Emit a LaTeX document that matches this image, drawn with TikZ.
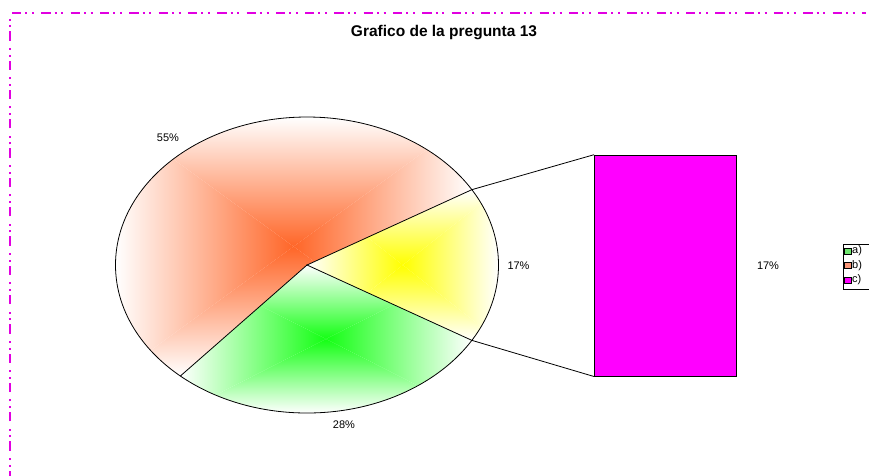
\documentclass[tikz,border=0pt]{standalone}
\usepackage{fontspec}
\setmainfont{Liberation Sans}
\usetikzlibrary{calc}
\definecolor{redc}{RGB}{255,102,40}
\definecolor{yelc}{RGB}{255,255,0}
\definecolor{grnc}{RGB}{20,255,20}
\definecolor{barc}{RGB}{255,0,255}
\definecolor{frame}{RGB}{225,0,225}
\definecolor{lega}{RGB}{110,230,110}
\definecolor{legb}{RGB}{250,150,120}
\newcommand{\pyrshade}[7]{%
  \shade[top color=white,middle color=#7!45,bottom color=#7] (#1,#2) -- (#3,#2) -- (#5,#6) -- cycle;
  \shade[top color=#7,middle color=#7!45,bottom color=white] (#1,#4) -- (#3,#4) -- (#5,#6) -- cycle;
  \shade[left color=white,middle color=#7!45,right color=#7] (#1,#2) -- (#1,#4) -- (#5,#6) -- cycle;
  \shade[left color=#7,middle color=#7!45,right color=white] (#3,#2) -- (#3,#4) -- (#5,#6) -- cycle;}
\tikzset{
  lbl/.style={font=\fontsize{11}{13}\selectfont, inner sep=0pt},
  outline/.style={draw=black, line width=0.8pt},
  legsq/.style={draw=black, line width=0.6pt, minimum width=7pt, minimum height=6pt, inner sep=0pt},
  ell/.style={x radius=191.5pt, y radius=148pt}
}
\begin{document}
\begin{tikzpicture}[x=1pt,y=-1pt]
\useasboundingbox (0,0) rectangle (869,475);
\clip (0,0) rectangle (869,475);
\fill[white] (0,0) rectangle (869,475);
% frame
\draw[frame, line width=2pt, dash pattern=on 9.3pt off 4pt on 2pt off 4.7pt on 2pt off 7.3pt]
  (10,480) -- (10,13.3) -- (866,13.3);
% title
\node[font=\fontsize{15.5}{18}\selectfont\bfseries, inner sep=0pt] (title) at (444,33) {Grafico de la pregunta 13};
% pie geometry
\coordinate (C) at (307,265);
\coordinate (P1) at ($(C)+(30.6:191.5pt and 148pt)$);
\coordinate (P2) at ($(C)+(-30.6:191.5pt and 148pt)$);
\coordinate (P3) at ($(C)+(228.6:191.5pt and 148pt)$);
% red slice
\begin{scope}
  \clip (C) -- (P1) arc[start angle=30.6, end angle=228.6, ell] -- cycle;
  \pyrshade{115.5}{117}{471.8}{376}{293.6}{246.5}{redc}
\end{scope}
% yellow slice
\begin{scope}
  \clip (C) -- (P2) arc[start angle=-30.6, end angle=30.6, ell] -- cycle;
  \pyrshade{307}{189.7}{498.5}{340.3}{402.8}{265}{yelc}
\end{scope}
% green slice
\begin{scope}
  \clip (C) -- (P3) arc[start angle=228.6, end angle=329.4, ell] -- cycle;
  \pyrshade{180.4}{265}{471.8}{413}{326}{339}{grnc}
\end{scope}
% outlines
\draw[outline] (C) ellipse[ell];
\draw[outline] (P1) -- (C) -- (P2);
\draw[outline] (C) -- (P3);
% bar
\node[outline, fill=barc, minimum width=142pt, minimum height=221pt, inner sep=0pt, anchor=north west] (bar) at (594,154.7) {};
\draw[outline] (P1) -- (bar.north west);
\draw[outline] (P2) -- (bar.south west);
% labels
\node[lbl] (l55) at (168,138) {55\%};
\node[lbl] (l17) at (518.5,266) {17\%};
\node[lbl] (l28) at (344,425) {28\%};
\node[lbl] (l17b) at (768,266) {17\%};
% legend
\draw[black, line width=0.6pt] (843,244) rectangle (890,289.3);
\node[legsq, fill=lega] (sa) at (847.5,251) {};
\node[legsq, fill=legb] (sb) at (847.5,265.5) {};
\node[legsq, fill=barc] (sc) at (847.5,280) {};
\node[lbl, anchor=west] (ta) at (852,251) {a)};
\node[lbl, anchor=west] (tb) at (852,265.5) {b)};
\node[lbl, anchor=west] (tc) at (852,280) {c)};
\end{tikzpicture}
\end{document}
